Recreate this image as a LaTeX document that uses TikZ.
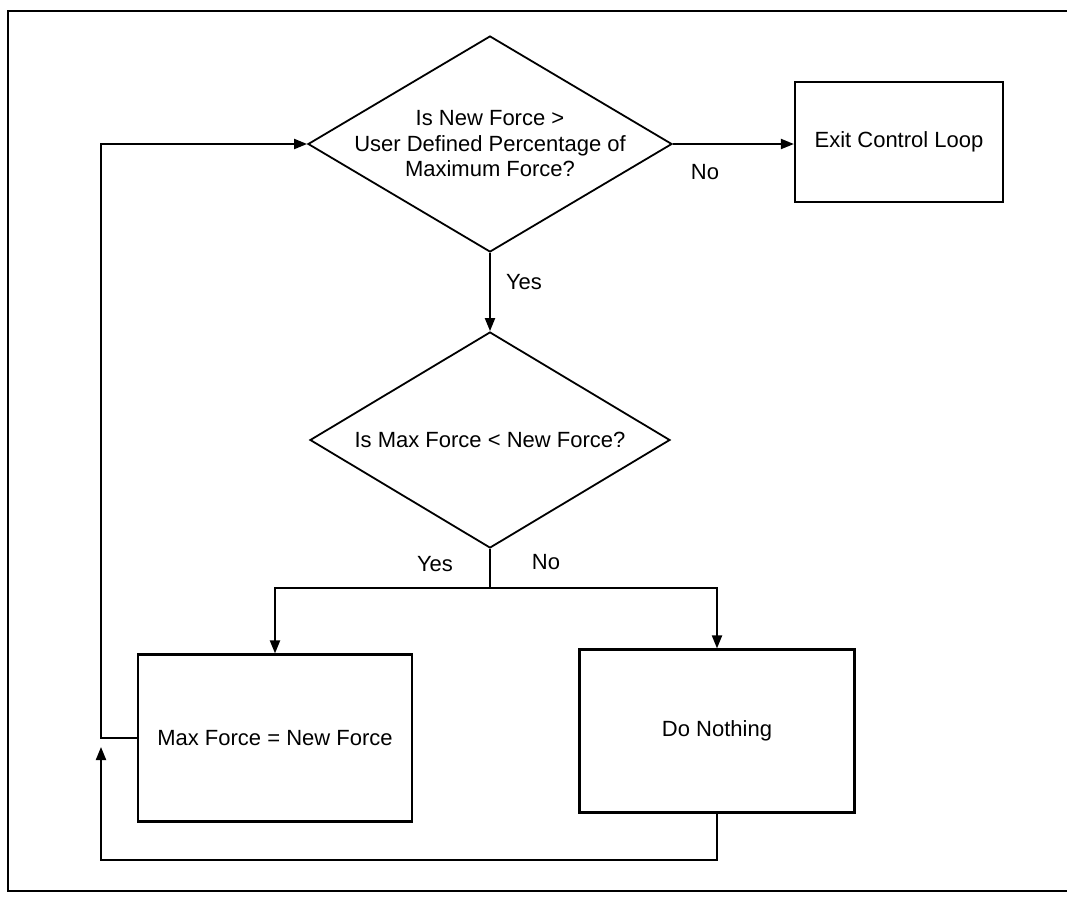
\documentclass[tikz,border=0pt]{standalone}
\usepackage{fontspec}
\setmainfont{Liberation Sans}
\usetikzlibrary{shapes.geometric,arrows.meta}
\begin{document}
\begin{tikzpicture}[x=1pt,y=-1pt,
  line/.style={line width=2pt},
  arr/.style={line width=2pt, -{Triangle[length=13pt,width=10pt]}},
  dia/.style={diamond, draw, line width=1.8pt, minimum width=364pt, minimum height=216pt, inner sep=0pt},
  box/.style={draw, line width=2.2pt, inner sep=0pt, font=\fontsize{22}{26}\selectfont},
  txt/.style={font=\fontsize{22}{25.5}\selectfont, align=center, inner sep=0pt},
  lbl/.style={font=\fontsize{22}{26}\selectfont, inner sep=0pt}]
\useasboundingbox (0,0) rectangle (1067,897);
\draw[line width=2.2pt] (1080,11) -- (8,11) -- (8,891) -- (1080,891);

\node[dia] (d1) at (490,144) {};
\node[txt] (t1) at (d1.center) {Is New Force >\\User Defined Percentage of\\Maximum Force?};
\node[box, minimum width=208pt, minimum height=120pt] (exit) at (899,142) {Exit Control Loop};

\node[dia, minimum width=360pt] (d2) at (490,440) {};
\node[txt] (t2) at (d2.center) {Is Max Force < New Force?};

\node[box, minimum width=274pt, minimum height=167pt] (b1) at (275,738) {Max Force = New Force};
\node[box, minimum width=275pt, minimum height=163pt] (b2) at (717,731) {Do Nothing};

\node[lbl] (no1) at (705,172) {No};
\node[lbl] (yes1) at (524,282) {Yes};
\node[lbl] (yes2) at (435,564) {Yes};
\node[lbl] (no2) at (546,562) {No};

\coordinate (split) at (490,588);
\coordinate (lx) at (101,0);
\coordinate (bot) at (101,860);
\coordinate (uptip) at (101,747);

\draw[arr] (d1.east) -- (d1.east -| exit.west);
\draw[arr] (d1.south) -- (d2.north);
\draw[line] (d2.south) -- (split);
\draw[arr] (split) -| (b1.north);
\draw[arr] (split) -| (b2.north);
\draw[arr] (b1.west) -- (b1.west -| lx) |- (d1.west);
\draw[arr] (b2.south) -- (b2.south |- bot) -- (bot) -- (uptip);
\end{tikzpicture}
\end{document}
